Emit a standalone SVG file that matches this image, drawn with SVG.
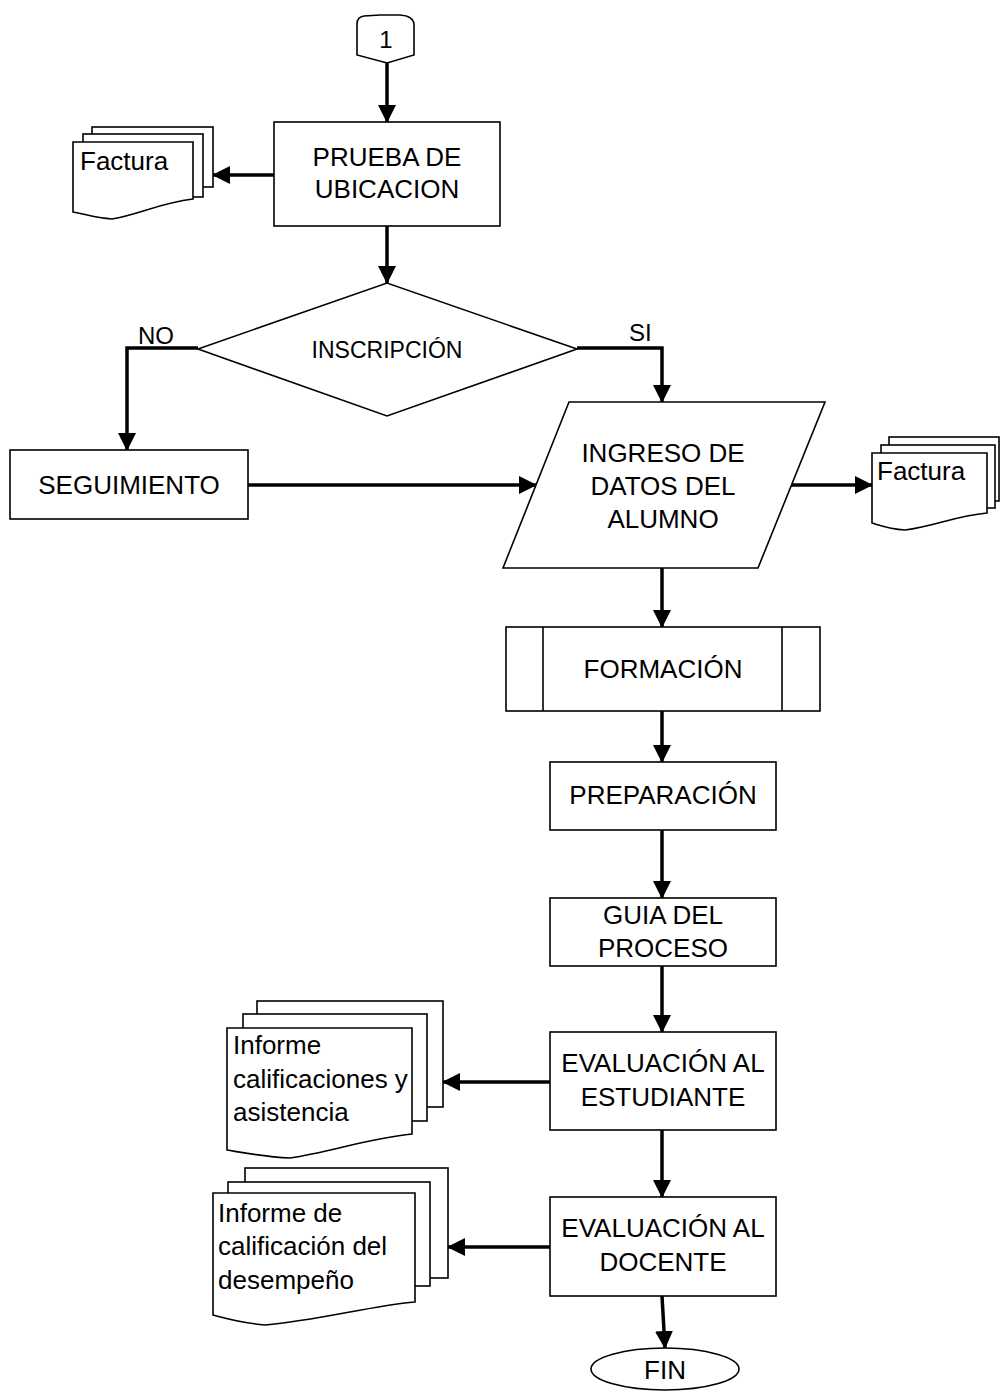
<svg xmlns="http://www.w3.org/2000/svg" width="1000" height="1392" viewBox="0 0 1000 1392">
<defs>
<style>
.s{fill:#fff;stroke:#000;stroke-width:1.6}
.t{font-family:"Liberation Sans",Arial,sans-serif;font-size:26px;fill:#000}
.c{text-anchor:middle}
.ln{fill:none;stroke:#000;stroke-width:3.5}
</style>
<marker id="ah" markerUnits="userSpaceOnUse" markerWidth="18" markerHeight="18" refX="17" refY="9" orient="auto">
<path d="M0,0 L18,9 L0,18 Z" fill="#000"/>
</marker>
</defs>
<rect width="1000" height="1392" fill="#fff"/>

<g id="connectors">
<path class="ln" d="M387,63 V122" marker-end="url(#ah)"/>
<path class="ln" d="M274,175 H213" marker-end="url(#ah)"/>
<path class="ln" d="M387,226 V283" marker-end="url(#ah)"/>
<path class="ln" d="M198,348 H127 V450" marker-end="url(#ah)"/>
<path class="ln" d="M577,348 H662 V402" marker-end="url(#ah)"/>
<path class="ln" d="M248,485 H536" marker-end="url(#ah)"/>
<path class="ln" d="M790,485 H872" marker-end="url(#ah)"/>
<path class="ln" d="M662,568 V627" marker-end="url(#ah)"/>
<path class="ln" d="M662,711 V762" marker-end="url(#ah)"/>
<path class="ln" d="M662,830 V898" marker-end="url(#ah)"/>
<path class="ln" d="M662,966 V1032" marker-end="url(#ah)"/>
<path class="ln" d="M550,1082 H443" marker-end="url(#ah)"/>
<path class="ln" d="M662,1130 V1197" marker-end="url(#ah)"/>
<path class="ln" d="M550,1247 H448" marker-end="url(#ah)"/>
<path class="ln" d="M662,1296 L665,1348" marker-end="url(#ah)"/>
<text class="t" x="138" y="344" style="font-size:24px">NO</text>
<text class="t" x="629" y="341" style="font-size:24px">SI</text>
</g>

<g id="start">
<path class="s" d="M357,55 V24 Q357,17 364,16 L380,15 H400 Q413,16 414,24 V55 L387,63 Z"/>
<text class="t c" x="386" y="48" style="font-size:24px">1</text>
</g>

<g id="prueba">
<rect class="s" x="274" y="122" width="226" height="104"/>
<text class="t c" x="387" y="166">PRUEBA DE</text>
<text class="t c" x="387" y="198">UBICACION</text>
</g>

<g id="factura1">
<rect class="s" x="92" y="127" width="121" height="60"/>
<rect class="s" x="83" y="134" width="120" height="63"/>
<path class="s" d="M73,142 H193 V199 C160,203 140,214 112,219 C95,218 85,214 73,212 Z"/>
<text class="t" x="80" y="170">Factura</text>
</g>

<g id="inscripcion">
<path class="s" d="M198,349 L387,283 L577,349 L387,416 Z"/>
<text class="t c" x="387" y="358" style="font-size:23px">INSCRIPCIÓN</text>
</g>

<g id="seguimiento">
<rect class="s" x="10" y="450" width="238" height="69"/>
<text class="t c" x="129" y="494">SEGUIMIENTO</text>
</g>

<g id="ingreso">
<path class="s" d="M569,402 H825 L758,568 H503 Z"/>
<text class="t c" x="663" y="462">INGRESO DE</text>
<text class="t c" x="663" y="495">DATOS DEL</text>
<text class="t c" x="663" y="528">ALUMNO</text>
</g>

<g id="factura2">
<rect class="s" x="889" y="437" width="110" height="64"/>
<rect class="s" x="881" y="445" width="114" height="63"/>
<path class="s" d="M872,453 H987 V513 C955,516 935,526 905,530 C890,529 882,526 872,523 Z"/>
<text class="t" x="877" y="480">Factura</text>
</g>

<g id="formacion">
<rect class="s" x="506" y="627" width="314" height="84"/>
<line class="s" x1="543" y1="627" x2="543" y2="711"/>
<line class="s" x1="782" y1="627" x2="782" y2="711"/>
<text class="t c" x="663" y="678">FORMACIÓN</text>
</g>

<g id="preparacion">
<rect class="s" x="550" y="762" width="226" height="68"/>
<text class="t c" x="663" y="804">PREPARACIÓN</text>
</g>

<g id="guia">
<rect class="s" x="550" y="898" width="226" height="68"/>
<text class="t c" x="663" y="924">GUIA DEL</text>
<text class="t c" x="663" y="957">PROCESO</text>
</g>

<g id="eval-estudiante">
<rect class="s" x="550" y="1032" width="226" height="98"/>
<text class="t c" x="663" y="1072">EVALUACIÓN AL</text>
<text class="t c" x="663" y="1106">ESTUDIANTE</text>
</g>

<g id="informe1">
<rect class="s" x="257" y="1001" width="186" height="106"/>
<rect class="s" x="243" y="1014" width="184" height="107"/>
<path class="s" d="M227,1028 H412 V1134 C370,1138 330,1152 290,1158 C265,1157 245,1153 227,1150 Z"/>
<text class="t" x="233" y="1054">Informe</text>
<text class="t" x="233" y="1088">calificaciones y</text>
<text class="t" x="233" y="1121">asistencia</text>
</g>

<g id="eval-docente">
<rect class="s" x="550" y="1197" width="226" height="99"/>
<text class="t c" x="663" y="1237">EVALUACIÓN AL</text>
<text class="t c" x="663" y="1271">DOCENTE</text>
</g>

<g id="informe2">
<rect class="s" x="245" y="1168" width="203" height="110"/>
<rect class="s" x="228" y="1182" width="202" height="104"/>
<path class="s" d="M213,1193 H415 V1302 C370,1306 320,1320 265,1325 C240,1323 225,1318 213,1315 Z"/>
<text class="t" x="218" y="1222">Informe de</text>
<text class="t" x="218" y="1255">calificación del</text>
<text class="t" x="218" y="1289">desempeño</text>
</g>

<g id="fin">
<ellipse class="s" cx="665" cy="1369" rx="74" ry="21"/>
<text class="t c" x="665" y="1379">FIN</text>
</g>
</svg>
